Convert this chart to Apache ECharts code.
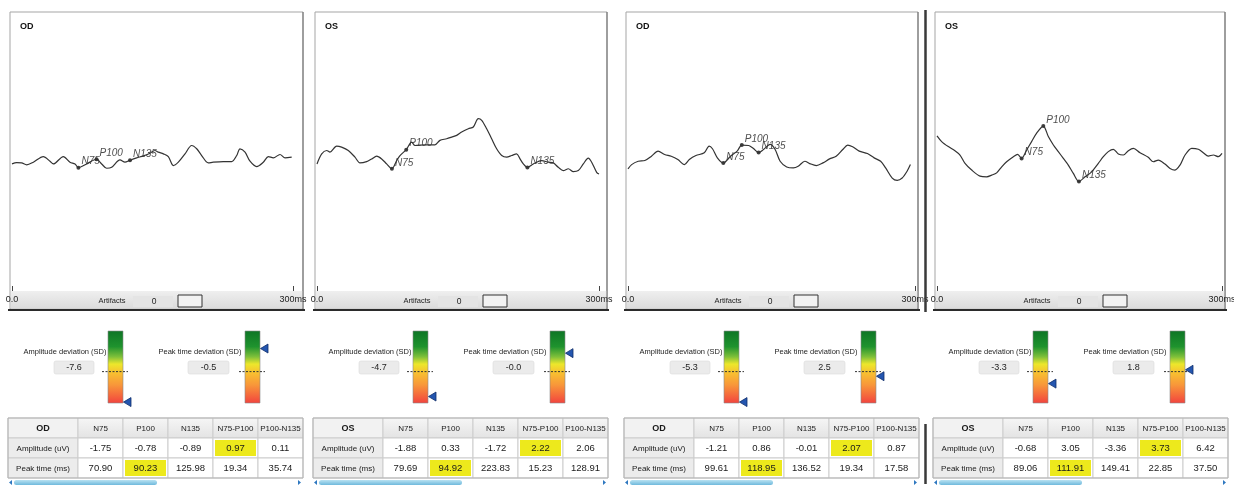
<!DOCTYPE html>
<html>
<head>
<meta charset="utf-8">
<script src="https://cdn.jsdelivr.net/npm/echarts@6/dist/echarts.min.js"></script>
<style>
html, body { margin: 0; padding: 0; background: #fff; }
#main { width: 1234px; height: 488px; }
</style>
</head>
<body>
<div id="main"></div>
<script>
// one panel per recording
var eyes = ['OD', 'OS', 'OD', 'OS'];
var xTickLabels = ['0.0', '300ms'];
var columns = ['N75', 'P100', 'N135', 'N75-P100', 'P100-N135'];
var rowLabels = ['Amplitude (uV)', 'Peak time (ms)'];
var peakNames = ['N75', 'P100', 'N135'];
var artifacts = ['0', '0', '0', '0'];

// waveforms, [time ms, amplitude uV]
var wave1 = [[0,-1.32],[5,-1.16],[10.3,-1.20],[15.7,-1.43],[22.8,-1.12],[33.4,-0.47],[40.6,-1.01],[44.1,-1.32],[54.8,-0.47],[61.9,-1.12],[67.3,-1.32],[70.9,-1.75],[79.7,-1.32],[90.23,-0.78],[95.7,-1.32],[101.1,-1.82],[106.4,-1.71],[115.3,-0.85],[120.6,-1.12],[125.98,-0.89],[133.1,-0.62],[140.2,-0.39],[147.3,-0.08],[152.7,0.23],[156.2,0.04],[161.6,-0.16],[166.9,-0.47],[172.2,-1.51],[177.6,-1.12],[184.7,-0.16],[191.8,0.81],[197.2,0.43],[202.5,-0.35],[209.6,-1.20],[214.9,-1.12],[225.6,-1.05],[234.5,-1.05],[239.9,-0.35],[243.4,0.43],[248.8,0.04],[254.1,-1.01],[261.2,-1.63],[268.3,-1.12],[273.7,-0.47],[279.0,-0.62],[286.1,-0.23],[291.5,-0.62],[298.6,-0.54]];
var wave2 = [[0,-1.32],[5.0,-0.16],[10.3,0.23],[13.8,0.04],[20.9,0.74],[26.2,0.62],[33.3,0.23],[40.4,-0.54],[45.7,-1.20],[52.8,-1.05],[58.2,-0.74],[63.5,-0.43],[68.8,-0.74],[74.1,-1.32],[79.69,-1.88],[84.8,-0.93],[88.3,-0.35],[94.92,0.33],[100.7,1.20],[104.3,0.81],[114.9,0.89],[125.5,0.89],[130.8,1.40],[137.9,1.59],[143.3,1.78],[148.6,1.98],[153.9,2.36],[161.0,2.75],[166.3,2.95],[171.6,3.91],[175.2,3.72],[180.5,2.75],[185.8,1.59],[191.1,0.43],[196.5,-0.35],[201.8,-0.54],[207.1,-0.35],[212.4,-0.16],[216.0,-0.74],[219.5,-1.32],[223.83,-1.72],[230.1,-1.32],[239.0,-0.93],[246.1,-1.12],[251.4,-1.20],[256.7,-1.71],[262.0,-2.09],[267.4,-1.88],[272.7,-2.21],[278.0,-2.09],[283.3,-1.32],[288.6,-0.66],[292.2,-1.12],[297.5,-2.29],[300,-2.48]];
var wave3 = [[0,-1.90],[3.8,-1.40],[10.7,-1.01],[17.6,-0.93],[24.5,-0.43],[31.4,0.16],[38.3,-0.23],[45.2,-0.43],[52.1,-0.81],[59.0,-1.40],[64.1,-0.81],[71.0,-0.35],[79.7,-0.04],[84.8,0.74],[88.3,0.43],[93.4,-0.62],[99.61,-1.21],[107.2,-0.43],[114.1,0.16],[118.95,0.86],[126.2,0.81],[131.4,0.43],[136.52,-0.01],[141.7,0.35],[148.6,0.93],[153.8,0.35],[159.0,-1.01],[165.9,-1.67],[172.8,-1.78],[177.9,-1.59],[184.8,-1.01],[190.0,-1.28],[196.9,-1.51],[203.8,-1.20],[210.7,-0.74],[217.6,-0.43],[224.5,0.35],[229.7,0.85],[234.8,0.66],[241.7,0.16],[250.3,-0.12],[257.3,-0.62],[264.1,-1.01],[269.3,-1.78],[276.2,-2.95],[281.4,-3.22],[286.6,-2.95],[291.7,-2.17],[295.2,-1.40]];
var wave4 = [[0,1.92],[4.9,1.26],[11.9,0.68],[18.9,0.21],[24.2,-0.29],[29.5,-1.26],[36.5,-2.03],[45.3,-2.73],[52.3,-2.81],[57.5,-2.62],[62.8,-2.35],[68.1,-1.65],[73.3,-1.07],[80.4,-0.48],[84.9,-0.21],[89.06,-0.68],[94.4,0.29],[99.6,1.26],[104.9,2.23],[111.91,3.05],[117.2,1.84],[122.5,0.87],[127.7,0.10],[133.0,-0.68],[138.2,-1.45],[143.5,-2.42],[149.41,-3.36],[155.8,-2.81],[162.8,-2.23],[169.8,-1.26],[175.1,-0.48],[180.3,0.10],[185.6,0.37],[190.9,-0.17],[196.1,-0.29],[201.4,0.21],[206.7,0.48],[213.7,-0.02],[222.4,-0.56],[227.7,-1.07],[233.0,-0.87],[240.0,-1.34],[245.3,-1.84],[250.5,-2.03],[255.8,-1.45],[261.1,-0.29],[268.1,0.48],[275.1,0.37],[280.3,-0.02],[285.6,-0.41],[290.9,-0.29],[296.1,-0.48],[300,-0.10]];

// table values per panel (columns as above)
var amp1 = [-1.75, -0.78, -0.89, 0.97, 0.11];
var time1 = [70.90, 90.23, 125.98, 19.34, 35.74];
var amp2 = [-1.88, 0.33, -1.72, 2.22, 2.06];
var time2 = [79.69, 94.92, 223.83, 15.23, 128.91];
var amp3 = [-1.21, 0.86, -0.01, 2.07, 0.87];
var time3 = [99.61, 118.95, 136.52, 19.34, 17.58];
var amp4 = [-0.68, 3.05, -3.36, 3.73, 6.42];
var time4 = [89.06, 111.91, 149.41, 22.85, 37.50];
var marked = [[3, 1], [1, 2]]; // [column, row] highlighted yellow

// deviation gauges (SD)
var ampDev = ['-7.6', '-4.7', '-5.3', '-3.3'];
var timeDev = ['-0.5', '-0.0', '2.5', '1.8'];
var ampScale = [-5.4, 2.4], ampLimit = -2;
var timeScale = [-2.4, 5.4], timeLimit = 2;

var waves = [wave1, wave2, wave3, wave4];
var amps = [amp1, amp2, amp3, amp4];
var times = [time1, time2, time3, time4];

var SANS = "'Liberation Sans', Arial, sans-serif";

var panelLeft = [10, 315, 626, 935];
var plotWidth = [281, 282, 287, 285];
var frameWidth = [293, 292, 292, 290];

var chart = echarts.init(document.getElementById('main'));

var gaugeFill = new echarts.graphic.LinearGradient(0, 0, 0, 1, [
	{ offset: 0, color: '#0e7526' },
	{ offset: 0.22, color: '#1f932e' },
	{ offset: 0.36, color: '#7fc03a' },
	{ offset: 0.46, color: '#ece72b' },
	{ offset: 0.58, color: '#f8c030' },
	{ offset: 0.75, color: '#f8963a' },
	{ offset: 1, color: '#f2433e' }
]);
var headFill = new echarts.graphic.LinearGradient(0, 0, 0, 1, [
	{ offset: 0, color: '#f6f6f6' },
	{ offset: 1, color: '#e3e3e3' }
]);

function txt(text, x, y, font, align, color, z) {
	return {
		type: 'text', z: z || 50,
		style: {
			text: text, x: x, y: y, font: font, fill: color || '#1e1e1e',
			align: align || 'center', textAlign: align || 'center',
			verticalAlign: 'middle', textVerticalAlign: 'middle'
		}
	};
}

function gaugeSeries(g, range, limit, dev) {
	return {
		type: 'custom', xAxisIndex: g, yAxisIndex: g, silent: true,
		data: [[0, range[0], range[1], limit, parseFloat(dev)]],
		renderItem: function (params, api) {
			var a = api.coord([0, api.value(1)]);
			var b = api.coord([0, api.value(2)]);
			var w = api.size([1, 0])[0];
			var x0 = a[0] - w / 2;
			var top = Math.min(a[1], b[1]);
			var h = Math.abs(a[1] - b[1]);
			var t = api.coord([0, api.value(3)]);
			var v = Math.max(range[0] + 0.1, Math.min(range[1] - 0.1, api.value(4)));
			var m = api.coord([0, v]);
			return {
				type: 'group',
				children: [
					{ type: 'rect', shape: { x: x0, y: top, width: w, height: h }, style: { fill: gaugeFill, stroke: '#8c8c8c', lineWidth: 0.6 } },
					{ type: 'line', shape: { x1: x0 - 6, y1: t[1], x2: x0 + w + 5, y2: t[1] }, style: { stroke: '#333', lineWidth: 1, lineDash: [2, 1.5] } },
					{ type: 'polygon', shape: { points: [[x0 + w + 0.5, m[1]], [x0 + w + 8, m[1] - 4.5], [x0 + w + 8, m[1] + 4.5]] }, style: { fill: '#2456b0', stroke: '#0f2d6a', lineWidth: 0.8 } }
				]
			};
		}
	};
}

function cellSeries(g, cells) {
	return {
		type: 'custom', xAxisIndex: g, yAxisIndex: g, silent: true,
		data: cells.map(function (c) { return [c.col, c.row]; }),
		renderItem: function (params, api) {
			var cell = cells[params.dataIndex];
			var p = api.coord([api.value(0), api.value(1)]);
			var s = api.size([1, 1]);
			var x = p[0] - s[0] / 2, y = p[1] - s[1] / 2;
			var kids = [
				{ type: 'rect', shape: { x: x, y: y, width: s[0], height: s[1] }, style: { fill: cell.fill, stroke: '#cdcdcd', lineWidth: 1 } }
			];
			if (cell.mark) {
				kids.push({ type: 'rect', shape: { x: x + 2, y: y + 2, width: s[0] - 4, height: s[1] - 4 }, style: { fill: '#ede91c' } });
			}
			kids.push({
				type: 'text',
				style: {
					text: cell.text, x: p[0], y: p[1] + 0.5, font: cell.font, fill: '#1a1a1a',
					align: 'center', textAlign: 'center', verticalAlign: 'middle', textVerticalAlign: 'middle'
				}
			});
			return { type: 'group', children: kids };
		}
	};
}

function isMarked(c, r) {
	for (var i = 0; i < marked.length; i++) {
		if (marked[i][0] === c && marked[i][1] === r) return true;
	}
	return false;
}

var grid = [], xAxis = [], yAxis = [], series = [], graphic = [];

for (var p = 0; p < 4; p++) {
	var L = panelLeft[p];
	var W = frameWidth[p];
	var g = p * 5;

	// waveform
	grid.push({ left: L + 2, top: 14, width: plotWidth[p], height: 277, outerBoundsMode: 'none' });
	xAxis.push({
		gridIndex: g, type: 'value', min: 0, max: 300, interval: 300,
		axisLine: { show: false, onZero: false },
		axisTick: { show: true, inside: true, length: 5, lineStyle: { color: '#444' } },
		axisLabel: {
			show: true, showMinLabel: true, showMaxLabel: true, margin: 4,
			fontSize: 9, fontFamily: SANS, color: '#222',
			formatter: function (v) { return v === 0 ? xTickLabels[0] : xTickLabels[1]; }
		},
		splitLine: { show: false }
	});
	yAxis.push({ gridIndex: g, type: 'value', min: -16, max: 16, show: false });
	series.push({
		type: 'line', xAxisIndex: g, yAxisIndex: g, data: waves[p],
		showSymbol: false, smooth: 0.3, silent: true,
		lineStyle: { color: '#333', width: 1.2 }
	});
	series.push({
		type: 'scatter', xAxisIndex: g, yAxisIndex: g, silent: true,
		data: peakNames.map(function (n, i) { return { name: n, value: [times[p][i], amps[p][i]] }; }),
		symbolSize: 4, itemStyle: { color: '#111' },
		label: {
			show: true, formatter: '{b}', position: 'right', distance: 1, offset: [0, -6],
			fontStyle: 'italic', fontSize: 10, fontFamily: SANS, color: '#222'
		}
	});

	// gauges
	grid.push({ left: L + 98, top: 331, width: 15, height: 72, outerBoundsMode: 'none' });
	xAxis.push({ gridIndex: g + 1, type: 'category', data: ['SD'], show: false });
	yAxis.push({ gridIndex: g + 1, type: 'value', min: ampScale[0], max: ampScale[1], show: false });
	series.push(gaugeSeries(g + 1, ampScale, ampLimit, ampDev[p]));

	grid.push({ left: L + 235, top: 331, width: 15, height: 72, outerBoundsMode: 'none' });
	xAxis.push({ gridIndex: g + 2, type: 'category', data: ['SD'], show: false });
	yAxis.push({ gridIndex: g + 2, type: 'value', min: timeScale[0], max: timeScale[1], inverse: true, show: false });
	series.push(gaugeSeries(g + 2, timeScale, timeLimit, timeDev[p]));

	// table: label column
	grid.push({ left: L - 2, top: 418, width: 70, height: 60, outerBoundsMode: 'none' });
	xAxis.push({ gridIndex: g + 3, type: 'category', data: ['label'], show: false });
	yAxis.push({ gridIndex: g + 3, type: 'category', data: ['head', 'amp', 'time'], inverse: true, show: false });
	series.push(cellSeries(g + 3, [
		{ col: 0, row: 0, text: eyes[p], fill: '#f2f2f2', font: 'bold 9px ' + SANS },
		{ col: 0, row: 1, text: rowLabels[0], fill: '#ececec', font: '8px ' + SANS },
		{ col: 0, row: 2, text: rowLabels[1], fill: '#ececec', font: '8px ' + SANS }
	]));

	// table: values
	var cells = [];
	for (var c = 0; c < columns.length; c++) {
		cells.push({ col: c, row: 0, text: columns[c], fill: headFill, font: '8px ' + SANS });
		cells.push({ col: c, row: 1, text: amps[p][c].toFixed(2), fill: '#fff', font: '9.5px ' + SANS, mark: isMarked(c, 1) });
		cells.push({ col: c, row: 2, text: times[p][c].toFixed(2), fill: '#fff', font: '9.5px ' + SANS, mark: isMarked(c, 2) });
	}
	grid.push({ left: L + 68, top: 418, width: 225, height: 60, outerBoundsMode: 'none' });
	xAxis.push({ gridIndex: g + 4, type: 'category', data: columns, show: false });
	yAxis.push({ gridIndex: g + 4, type: 'category', data: ['head', 'amp', 'time'], inverse: true, show: false });
	series.push(cellSeries(g + 4, cells));

	// frame, strip and decorations
	graphic.push({ type: 'rect', z: -20, shape: { x: L, y: 12, width: W, height: 297 }, style: { fill: '#fff', stroke: '#a5a5a5', lineWidth: 1 } });
	graphic.push({ type: 'line', z: -5, shape: { x1: L + W, y1: 12, x2: L + W, y2: 309 }, style: { stroke: '#6a6a6a', lineWidth: 1 } });
	graphic.push({
		type: 'rect', z: -15, shape: { x: L + 1, y: 291, width: W - 1, height: 17 },
		style: { fill: new echarts.graphic.LinearGradient(0, 0, 0, 1, [{ offset: 0, color: '#efefef' }, { offset: 1, color: '#dcdcdc' }]) }
	});
	graphic.push({ type: 'line', z: -5, shape: { x1: L - 2, y1: 310, x2: L + W + 2, y2: 310 }, style: { stroke: '#2b2b2b', lineWidth: 2 } });
	graphic.push(txt(eyes[p], L + 10, 27, 'bold 9px ' + SANS, 'left', '#111'));
	graphic.push(txt('Artifacts', L + 102, 301, '7.5px ' + SANS));
	graphic.push({ type: 'rect', z: -10, shape: { x: L + 123, y: 296, width: 40, height: 11 }, style: { fill: '#e4e4e4' } });
	graphic.push(txt(artifacts[p], L + 144, 301.5, '8.5px ' + SANS));
	graphic.push({ type: 'rect', z: -10, shape: { x: L + 168, y: 295, width: 24, height: 12 }, style: { fill: '#f2f2f2', stroke: '#333', lineWidth: 1 } });

	graphic.push(txt('Amplitude deviation (SD)', L + 55, 352, '7.5px ' + SANS));
	graphic.push({ type: 'rect', z: -10, shape: { x: L + 44, y: 361, width: 40, height: 13, r: 2 }, style: { fill: '#ebebeb', stroke: '#dadada', lineWidth: 0.6 } });
	graphic.push(txt(ampDev[p], L + 64, 367.5, '9px ' + SANS));
	graphic.push(txt('Peak time deviation (SD)', L + 190, 352, '7.5px ' + SANS));
	graphic.push({ type: 'rect', z: -10, shape: { x: L + 178, y: 361, width: 41, height: 13, r: 2 }, style: { fill: '#ebebeb', stroke: '#dadada', lineWidth: 0.6 } });
	graphic.push(txt(timeDev[p], L + 198.5, 367.5, '9px ' + SANS));

	graphic.push({ type: 'rect', z: 40, shape: { x: L - 2, y: 418, width: 295, height: 60 }, style: { fill: null, stroke: '#b3b3b3', lineWidth: 1 } });
	graphic.push({
		type: 'rect', z: 10, shape: { x: L + 4, y: 480, width: 143, height: 5, r: 2.5 },
		style: { fill: new echarts.graphic.LinearGradient(0, 0, 0, 1, [{ offset: 0, color: '#b9e2f2' }, { offset: 1, color: '#6fb9dc' }]) }
	});
	graphic.push({ type: 'polygon', z: 10, shape: { points: [[L - 1, 482.5], [L + 2, 480], [L + 2, 485]] }, style: { fill: '#2f78c0' } });
	graphic.push({ type: 'polygon', z: 10, shape: { points: [[L + 291, 482.5], [L + 288, 480], [L + 288, 485]] }, style: { fill: '#2f78c0' } });
}

// dark divider between the third and fourth panel
graphic.push({ type: 'line', z: 10, shape: { x1: 925.5, y1: 10, x2: 925.5, y2: 312 }, style: { stroke: '#3a3a3a', lineWidth: 2.5 } });
graphic.push({ type: 'line', z: 10, shape: { x1: 925.5, y1: 424, x2: 925.5, y2: 484 }, style: { stroke: '#3a3a3a', lineWidth: 2.5 } });

chart.setOption({
	backgroundColor: '#fff',
	animation: false,
	grid: grid,
	xAxis: xAxis,
	yAxis: yAxis,
	series: series,
	graphic: { elements: graphic }
});
</script>
</body>
</html>
